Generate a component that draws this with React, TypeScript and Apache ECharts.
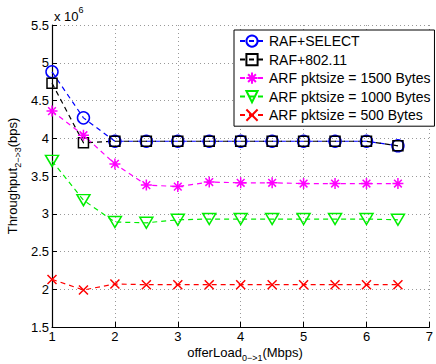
import React, { useEffect, useRef } from "react";
import * as echarts from "echarts";

const xValues = [1, 1.5, 2, 2.5, 3, 3.5, 4, 4.5, 5, 5.5, 6, 6.5];
const rafSelect = [4.88, 4.27, 3.96, 3.96, 3.96, 3.96, 3.96, 3.96, 3.96, 3.96, 3.96, 3.9];
const raf80211 = [4.73, 3.94, 3.96, 3.96, 3.96, 3.96, 3.96, 3.96, 3.96, 3.96, 3.96, 3.9];
const arf1500 = [4.36, 4.04, 3.66, 3.38, 3.36, 3.42, 3.41, 3.41, 3.4, 3.4, 3.4, 3.4];
const arf1000 = [3.7, 3.18, 2.89, 2.88, 2.92, 2.93, 2.93, 2.93, 2.93, 2.93, 2.93, 2.92];
const arf500 = [2.13, 1.99, 2.07, 2.06, 2.06, 2.06, 2.06, 2.06, 2.06, 2.06, 2.06, 2.06];
const seriesNames = [
  "RAF+SELECT",
  "RAF+802.11",
  "ARF pktsize = 1500 Bytes",
  "ARF pktsize = 1000 Bytes",
  "ARF pktsize = 500 Bytes",
];

const FONT = "'Liberation Sans', Arial, Helvetica, sans-serif";

const toPairs = (ys: number[]) => xValues.map((x, i) => [x, ys[i]]);

export default function App() {
  const ref = useRef<HTMLDivElement>(null);
  useEffect(() => {
    if (!ref.current) return;
    const chart = echarts.init(ref.current, undefined, { renderer: "svg" });
    const mk = (
      name: string,
      data: number[],
      color: string,
      symbol: string,
      size: number | number[]
    ) => ({
      name,
      type: "line",
      data: toPairs(data),
      symbol,
      symbolSize: size,
      showAllSymbol: true,
      lineStyle: { color, width: 1.2, type: [5, 4] },
      itemStyle: { color: "none", borderColor: color, borderWidth: 1.5 },
      emphasis: { disabled: true },
    });
    chart.setOption({
      animation: false,
      backgroundColor: "#fff",
      grid: { left: 52, top: 25, width: 384, height: 302 },
      xAxis: {
        type: "value",
        min: 1,
        max: 7,
        interval: 1,
        axisLine: { lineStyle: { color: "#000", width: 1.2 } },
        axisTick: { inside: true, length: 5, lineStyle: { color: "#000" } },
        axisLabel: { color: "#000", fontSize: 13, fontFamily: FONT, margin: 3 },
        splitLine: { show: true, lineStyle: { color: "#999", type: [1, 3], width: 1 } },
      },
      yAxis: {
        type: "value",
        min: 1.5,
        max: 5.5,
        interval: 0.5,
        axisLine: { show: true, lineStyle: { color: "#000", width: 1.2 } },
        axisTick: { show: true, inside: true, length: 5, lineStyle: { color: "#000" } },
        axisLabel: { color: "#000", fontSize: 13, fontFamily: FONT, margin: 3 },
        splitLine: { show: true, lineStyle: { color: "#999", type: [1, 3], width: 1 } },
      },
      legend: {
        orient: "vertical",
        left: 234,
        top: 30,
        itemWidth: 24,
        itemHeight: 14,
        itemGap: 2.3,
        padding: [3, 4, 3, 5],
        borderColor: "#000",
        borderWidth: 1,
        backgroundColor: "#fff",
        textStyle: { color: "#000", fontSize: 14, fontFamily: FONT },
        data: seriesNames,
      },
      series: [
        mk(seriesNames[0], rafSelect, "#0000ff", "circle", 12),
        mk(seriesNames[1], raf80211, "#000000", "rect", 10),
        mk(
          seriesNames[2],
          arf1500,
          "#ff00ff",
          "path://M0,5L10,5M5,0L5,10M1.5,1.5L8.5,8.5M1.5,8.5L8.5,1.5",
          11
        ),
        mk(seriesNames[3], arf1000, "#00ee00", "path://M0,0L10,0L5,9Z", [13, 11]),
        mk(seriesNames[4], arf500, "#ff0000", "path://M0,0L10,10M0,10L10,0", 9),
      ],
      graphic: [
        {
          type: "text",
          x: 245,
          y: 352,
          style: {
            text: "{a|offerLoad}{s|0−>1}{a|(Mbps)}",
            align: "center",
            verticalAlign: "middle",
            rich: {
              a: { fontSize: 13, fontFamily: FONT, fill: "#000" },
              s: { fontSize: 9, fontFamily: FONT, fill: "#000", padding: [12, 0, 0, 0] },
            },
          },
        },
        {
          type: "text",
          x: 12,
          y: 176,
          rotation: Math.PI / 2,
          style: {
            text: "{a|Throughput}{s|2−>3}{a|(bps)}",
            align: "center",
            verticalAlign: "middle",
            rich: {
              a: { fontSize: 13, fontFamily: FONT, fill: "#000" },
              s: { fontSize: 9, fontFamily: FONT, fill: "#000", padding: [12, 0, 0, 0] },
            },
          },
        },
        {
          type: "text",
          x: 54,
          y: 16,
          style: {
            text: "{a|x 10}{p|6}",
            align: "left",
            verticalAlign: "middle",
            rich: {
              a: { fontSize: 13, fontFamily: FONT, fill: "#000" },
              p: { fontSize: 9, fontFamily: FONT, fill: "#000", padding: [0, 0, 12, 0] },
            },
          },
        },
      ],
    });
    return () => chart.dispose();
  }, []);
  return (
    <div
      ref={ref}
      style={{ position: "fixed", left: 0, top: 0, width: 436, height: 364 }}
    />
  );
}
